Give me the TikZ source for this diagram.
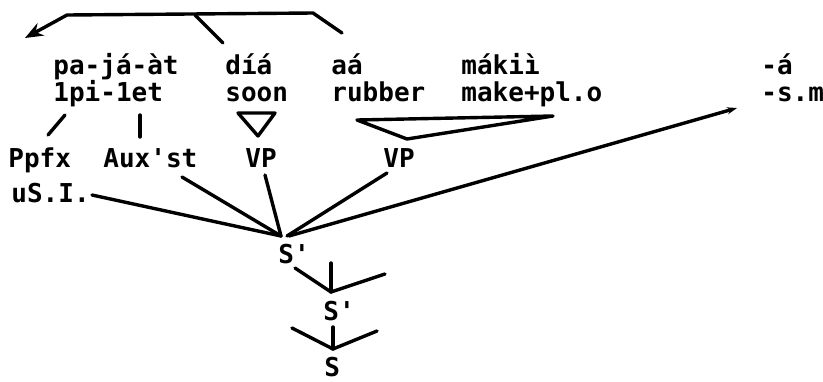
\documentclass[tikz,border=0pt]{standalone}
\usepackage{fontspec}
\setmonofont{DejaVu Sans Mono}
\usetikzlibrary{arrows.meta}

\tikzset{
  gloss/.style={font=\ttfamily\bfseries\fontsize{13}{13}\selectfont, inner sep=0pt, anchor=base west},
  branch/.style={line width=1.7pt, line cap=round, line join=round},
}

\begin{document}
\begin{tikzpicture}[x=0.5pt, y=-0.5pt]
\useasboundingbox (0,0) rectangle (823,381);

%% words and glosses
\node[gloss] (w1)  at (53,74)  {pa-já-àt};
\node[gloss] (g1)  at (53,101) {1pi-1et};
\node[gloss] (w2)  at (225,74) {díá};
\node[gloss] (g2)  at (225,101) {soon};
\node[gloss] (w3)  at (331,74) {aá};
\node[gloss] (g3)  at (331,101) {rubber};
\node[gloss] (w4)  at (461,74) {mákiì};
\node[gloss] (g4)  at (461,101) {make+pl.o};
\node[gloss] (w5)  at (761,74) {-á};
\node[gloss] (g5)  at (761,101) {-s.m};

%% categories
\node[gloss] (ppfx) at (8,167)   {Ppfx};
\node[gloss] (usi)  at (11,202)  {uS.I.};
\node[gloss] (aux)  at (103,167) {Aux'st};
\node[gloss] (vpa)  at (245,167) {VP};
\node[gloss] (vpb)  at (383,167) {VP};
\node[gloss] (sbara) at (278,263) {S'};
\node[gloss] (sbarb) at (323,320) {S'};
\node[gloss] (sent)  at (324,376) {S};

%% movement line on top
\coordinate (mv1) at (342,33);
\coordinate (mv2) at (313,13);
\coordinate (mv3) at (67,15);
\coordinate (mv4) at (25,38);
\coordinate (mv5) at (223,43);
\coordinate (mv6) at (195,15);
\draw[branch, -{Stealth[length=9pt,width=7pt]}] (mv1) -- (mv2) -- (mv3) -- (mv4);
\draw[branch] (mv5) -- (mv6);

%% word to category
\coordinate (pa) at (65,115);
\coordinate (pb) at (48,135);
\coordinate (aa) at (140,115);
\coordinate (ab) at (140,137);
\draw[branch] (pa) -- (pb);
\draw[branch] (aa) -- (ab);

%% triangles
\coordinate (ta) at (238,113);
\coordinate (tb) at (275,113);
\coordinate (tc) at (258,136);
\draw[branch] (ta) -- (tb) -- (tc) -- cycle;
\coordinate (tr1) at (357,120);
\coordinate (tr2) at (553,116);
\coordinate (tr3) at (407,139);
\draw[branch] (tr1) -- (tr2) -- (tr3) -- cycle;

%% top S'
\coordinate (j0) at (281,236);
\coordinate (ua) at (92,195);
\coordinate (xa) at (182,177);
\coordinate (va) at (265,175);
\coordinate (vb) at (387,173);
\coordinate (sm) at (737,108);
\draw[branch] (ua) -- (j0);
\draw[branch] (xa) -- (j0);
\draw[branch] (va) -- (j0);
\draw[branch] (vb) -- ([xshift=3pt]j0);
\draw[branch, -{Stealth[length=5pt,width=3.5pt]}] ([xshift=4pt]j0) -- (sm);

%% lower levels
\coordinate (j1) at (331,292);
\coordinate (j1a) at (295,268);
\coordinate (j1b) at (331,263);
\coordinate (j1c) at (385,274);
\draw[branch] (j1a) -- (j1);
\draw[branch] (j1b) -- (j1);
\draw[branch] (j1c) -- (j1);
\coordinate (j2) at (333,349);
\coordinate (j2a) at (292,328);
\coordinate (j2b) at (333,327);
\coordinate (j2c) at (377,331);
\draw[branch] (j2a) -- (j2);
\draw[branch] (j2b) -- (j2);
\draw[branch] (j2c) -- (j2);

\end{tikzpicture}
\end{document}
